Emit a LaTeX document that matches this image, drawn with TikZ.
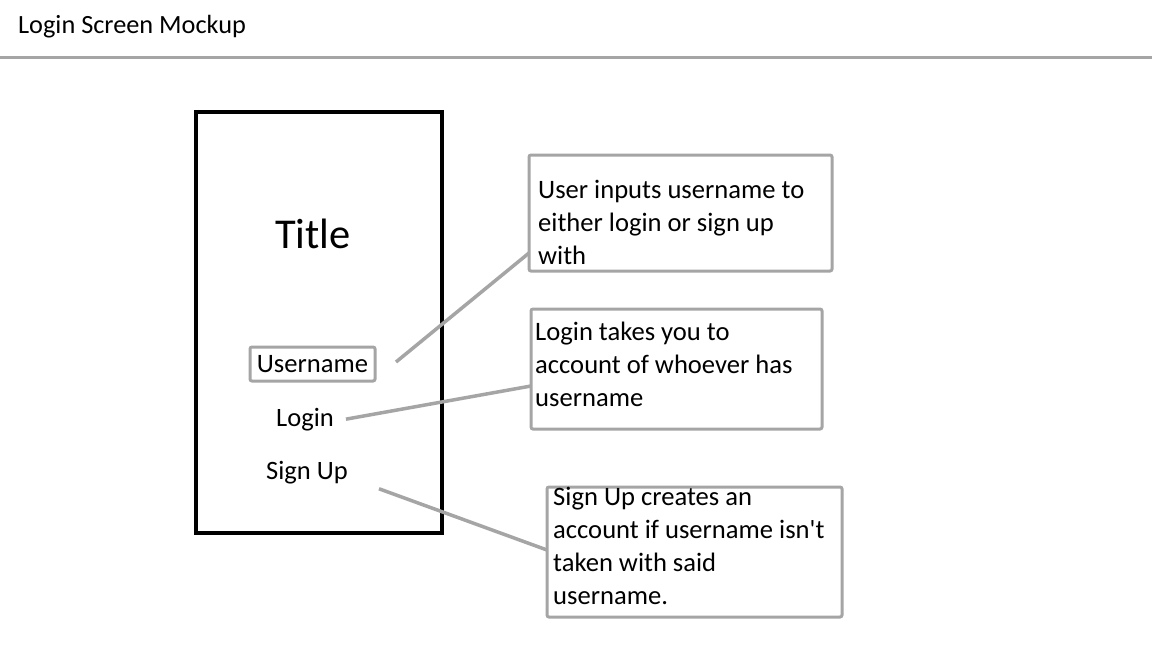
\documentclass[tikz,border=0pt]{standalone}
\usepackage{fontspec}
\setmainfont{Carlito}
\definecolor{skgray}{RGB}{165,165,165}
\newcommand{\straightapos}{{\addfontfeature{Ligatures=TeXOff}'}}
\begin{document}
\begin{tikzpicture}[x=1pt,y=-1pt,
  sk/.style={draw=skgray, line width=3pt, rounded corners=2pt, inner sep=0pt, outer sep=0pt},
  conn/.style={draw=skgray, line width=3.5pt},
  boxtext/.style={inner sep=0pt, anchor=base west, align=left, font=\fontsize{26.6}{33}\selectfont},
  lbl/.style={inner sep=0pt, anchor=base, font=\fontsize{26.5}{30}\selectfont}
]
\useasboundingbox[fill=white] (0,0) rectangle (1152,648);

% header
\node[inner sep=0pt, anchor=base west, font=\fontsize{26.3}{30}\selectfont] (hdr) at (18,33) {Login Screen Mockup};
\coordinate (hl) at (0,57);
\coordinate (hr) at (1152,57);
\draw[conn, line width=3pt] (hl) -- (hr);

% phone frame
\node[draw=black, line width=4pt, minimum width=246pt, minimum height=421pt, inner sep=0pt, outer sep=0pt, anchor=north west] (phone) at (196,112) {};
\node[inner sep=0pt, anchor=base, font=\fontsize{42.5}{46}\selectfont] (title) at (313,248) {Title};
\node[sk, minimum width=125pt, minimum height=34pt, font=\fontsize{26.6}{30}\selectfont] (ubox) at (312.5,364) {Username};
\node[lbl] (login) at (305,426) {Login};
\node[lbl] (signup) at (307,479) {Sign Up};

% annotation boxes (base anchor = baseline of last line)
\node[sk, minimum width=303pt, minimum height=116pt, anchor=north west] (b1) at (529,155) {};
\node[boxtext] (t1) at (538,264) {User inputs username to\\either login or sign up\\with};
\node[sk, minimum width=291pt, minimum height=120pt, anchor=north west] (b2) at (531,309) {};
\node[boxtext] (t2) at (535,406) {Login takes you to\\account of whoever has\\username};
\node[sk, minimum width=295pt, minimum height=130pt, anchor=north west] (b3) at (547,487) {};
\node[boxtext] (t3) at (553,604) {Sign Up creates an\\account if username isn\straightapos t\\taken with said\\username.};

% connectors
\coordinate (c1s) at ([xshift=21pt,yshift=2pt]ubox.east);
\coordinate (c1e) at ([yshift=18pt]b1.south west);
\coordinate (c2s) at ([xshift=12pt]login.east);
\coordinate (c2e) at ([yshift=43pt]b2.south west);
\coordinate (c3s) at ([xshift=31pt,yshift=-5pt]signup.south east);
\coordinate (c3e) at ([yshift=67pt]b3.south west);
\draw[conn] (c1s) -- (c1e);
\draw[conn] (c2s) -- (c2e);
\draw[conn] (c3s) -- (c3e);
\end{tikzpicture}
\end{document}
